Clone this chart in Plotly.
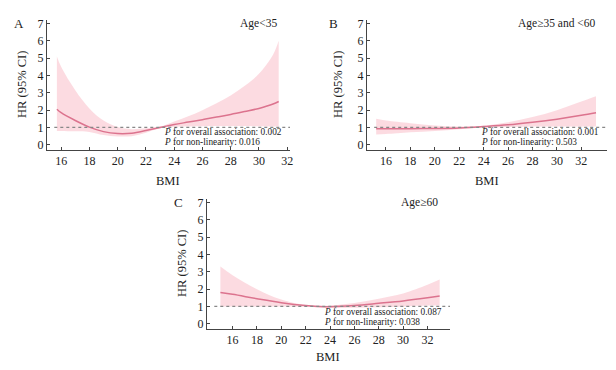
import plotly.graph_objects as go

W, H = 616, 370

# Panel A: Age<35
bmi_a = [15.7, 16, 17, 18, 19, 20, 21, 22, 23, 24, 25, 26, 27, 28, 29, 30, 31, 31.4]
hr_a = [2.05, 1.85, 1.4, 1.02, 0.76, 0.65, 0.67, 0.82, 1.0, 1.17, 1.31, 1.45, 1.6, 1.75, 1.92, 2.1, 2.35, 2.5]
up_a = [5.1, 4.5, 3.15, 2.1, 1.4, 1.02, 0.9, 0.95, 1.05, 1.35, 1.65, 2.0, 2.4, 2.85, 3.4, 4.1, 5.2, 6.0]
lo_a = [0.8, 0.8, 0.78, 0.74, 0.56, 0.48, 0.5, 0.7, 0.95, 1.04, 1.06, 1.07, 1.08, 1.08, 1.08, 1.07, 1.05, 1.05]

# Panel B: Age>=35 and <60
bmi_b = [15.2, 16, 18, 20, 22, 24, 26, 28, 30, 32, 33.2]
hr_b = [0.92, 0.92, 0.93, 0.94, 0.97, 1.05, 1.15, 1.3, 1.48, 1.7, 1.85]
up_b = [1.5, 1.4, 1.25, 1.12, 1.05, 1.1, 1.3, 1.6, 2.0, 2.5, 2.8]
lo_b = [0.6, 0.62, 0.72, 0.8, 0.9, 1.0, 1.03, 1.05, 1.05, 1.05, 1.05]

# Panel C: Age>=60
bmi_c = [15, 16, 18, 20, 22, 23, 24, 26, 28, 30, 32, 33]
hr_c = [1.8, 1.7, 1.45, 1.22, 1.05, 1.0, 0.98, 1.05, 1.18, 1.32, 1.5, 1.6]
up_c = [3.3, 2.8, 2.0, 1.4, 1.08, 1.04, 1.05, 1.2, 1.45, 1.75, 2.25, 2.55]
lo_c = [1.0, 1.0, 1.0, 1.0, 0.98, 0.95, 0.92, 0.92, 0.95, 1.0, 1.05, 1.05]

y_ticks = [0, 1, 2, 3, 4, 5, 6, 7]
x_ticks = [16, 18, 20, 22, 24, 26, 28, 30, 32]

panels = [
    dict(x=bmi_a, hr=hr_a, up=up_a, lo=lo_a, letter="A", age="Age&lt;35",
         p1="0.002", p2="0.016", xr=[15.0, 32.2],
         dom=(47, 290, 20, 150), label=(19, 23), agepos=(279, 23), ppos=(162, 132),
         bmipos=(168, 181), ytpos=(22, 85)),
    dict(x=bmi_b, hr=hr_b, up=up_b, lo=lo_b, letter="B", age="Age≥35 and &lt;60",
         p1="0.001", p2="0.503", xr=[14.45, 34.1],
         dom=(367, 607, 20, 150), label=(333, 23), agepos=(598, 23), ppos=(479, 132),
         bmipos=(487, 181), ytpos=(338, 85)),
    dict(x=bmi_c, hr=hr_c, up=up_c, lo=lo_c, letter="C", age="Age≥60",
         p1="0.087", p2="0.038", xr=[13.9, 33.85],
         dom=(207, 450, 199, 329), label=(178, 202), agepos=(440, 202), ppos=(322, 312),
         bmipos=(328, 357), ytpos=(182, 264)),
]

LINE = "rgb(220,115,142)"
FILL = "rgba(250,190,200,0.55)"
FONT = "Liberation Serif"

fig = go.Figure()
annotations = []
shapes = []
layout_axes = {}

def px(x):
    return x / W

def py(y):
    return 1 - y / H

def ann(text, x, y, size, xanchor="center", angle=0):
    return dict(text=text, x=px(x), y=py(y), xref="paper", yref="paper", showarrow=False,
                xanchor=xanchor, yanchor="middle", textangle=angle,
                font=dict(family=FONT, size=size, color="#222"))

for i, p in enumerate(panels):
    n = "" if i == 0 else str(i + 1)
    xa, ya = "x" + n, "y" + n
    fig.add_trace(go.Scatter(x=p["x"], y=p["lo"], mode="lines", line=dict(width=0, shape="spline"),
                             xaxis=xa, yaxis=ya, showlegend=False, hoverinfo="skip"))
    fig.add_trace(go.Scatter(x=p["x"], y=p["up"], mode="lines", line=dict(width=0, shape="spline"),
                             fill="tonexty", fillcolor=FILL,
                             xaxis=xa, yaxis=ya, showlegend=False, hoverinfo="skip"))
    fig.add_trace(go.Scatter(x=p["x"], y=p["hr"], mode="lines", line=dict(width=1.5, color=LINE, shape="spline"),
                             xaxis=xa, yaxis=ya, showlegend=False))
    x0, x1, y0, y1 = p["dom"]
    axis_common = dict(showline=True, linecolor="#444", linewidth=1, ticks="inside", ticklen=3,
                       tickcolor="#444", showgrid=False, zeroline=False, automargin=False,
                       tickfont=dict(family=FONT, size=12, color="#222"))
    layout_axes["xaxis" + n] = dict(domain=[px(x0), px(x1)], range=p["xr"], tickvals=x_ticks,
                                    anchor=ya, **axis_common)
    layout_axes["yaxis" + n] = dict(domain=[py(y1), py(y0)], range=[-0.3, 7.2], tickvals=y_ticks,
                                    anchor=xa, **axis_common)
    shapes.append(dict(type="line", xref=xa + " domain", yref=ya, x0=0.03, x1=1.0, y0=1, y1=1,
                       line=dict(color="#888", width=1.2, dash="dot")))
    annotations.append(ann(p["letter"], p["label"][0], p["label"][1], 13))
    annotations.append(ann(p["age"], p["agepos"][0], p["agepos"][1], 11.5, xanchor="right"))
    annotations.append(ann("<i>P</i> for overall association: " + p["p1"],
                           p["ppos"][0], p["ppos"][1], 9.3, xanchor="left"))
    annotations.append(ann("<i>P</i> for non-linearity: " + p["p2"],
                           p["ppos"][0], p["ppos"][1] + 10, 9.3, xanchor="left"))
    annotations.append(ann("BMI", p["bmipos"][0], p["bmipos"][1], 12.5))
    annotations.append(ann("HR (95% CI)", p["ytpos"][0], p["ytpos"][1], 12.5, angle=-90))

fig.update_layout(width=W, height=H, margin=dict(l=0, r=0, t=0, b=0),
                  paper_bgcolor="white", plot_bgcolor="white",
                  annotations=annotations, shapes=shapes, **layout_axes)

fig.write_html("out.html", config={"displayModeBar": False},
               post_script="document.body.style.margin='0';document.documentElement.style.margin='0';")
